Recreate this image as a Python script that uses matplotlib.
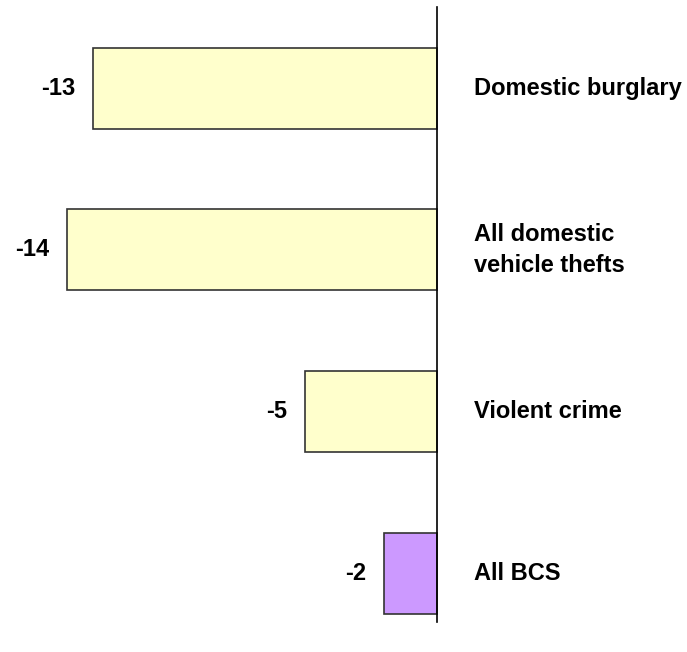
import matplotlib
matplotlib.use("Agg")
import matplotlib.pyplot as plt

categories = ["Domestic burglary", "All domestic\nvehicle thefts", "Violent crime", "All BCS"]
values = [-13, -14, -5, -2]
colors = ["#FFFFCC", "#FFFFCC", "#FFFFCC", "#CC99FF"]

plt.rcParams["font.family"] = ["Liberation Sans", "DejaVu Sans"]

fig = plt.figure(figsize=(6.87, 6.52), dpi=100)
ax = fig.add_axes([0, 0.046, 1, 0.943])

pos = list(range(len(categories)))
ax.barh(pos, values, height=0.5, color=colors, edgecolor="#333333", linewidth=1.2)

ax.set_xlim(-16.53, 9.46)
ax.set_ylim(3.302, -0.501)

for s in ["top", "right", "bottom"]:
    ax.spines[s].set_visible(False)
ax.spines["left"].set_position(("data", 0))
ax.spines["left"].set_linewidth(1.2)
ax.set_xticks([])
ax.set_yticks([])
ax.patch.set_alpha(0)

for p, v, c in zip(pos, values, categories):
    ax.annotate(f"{v}", xy=(v, p), xytext=(-13, 0), textcoords="offset points",
                ha="right", va="center", fontsize=17, fontweight="bold")
    ax.annotate(c, xy=(0, p), xytext=(27, 0), textcoords="offset points",
                ha="left", va="center", fontsize=17, fontweight="bold", linespacing=1.45)

fig.savefig("out.png", dpi=100)
